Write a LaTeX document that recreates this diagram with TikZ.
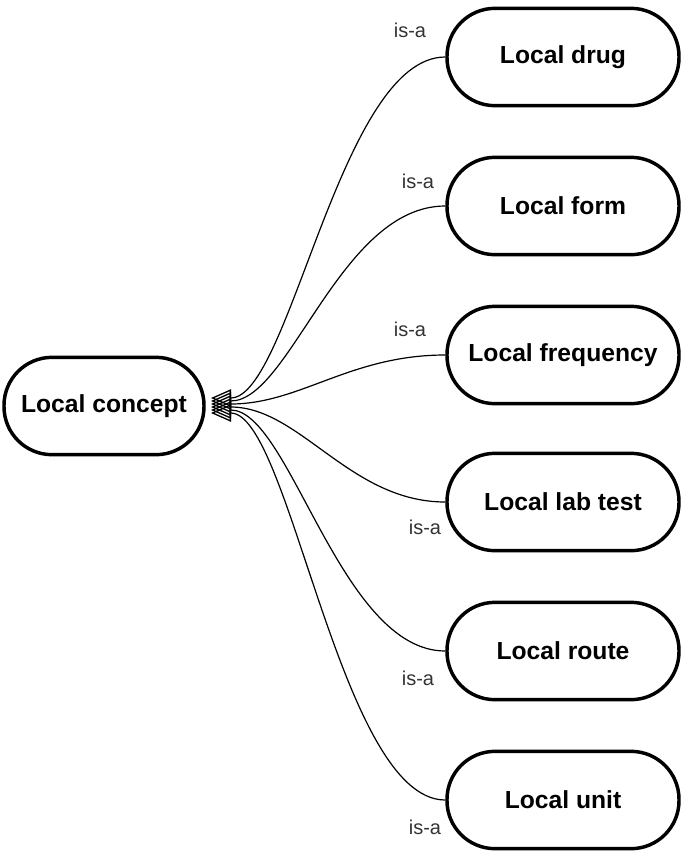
\documentclass[tikz,border=0pt]{standalone}
\usepackage{fontspec}
\setmainfont{Liberation Sans}
\usetikzlibrary{arrows.meta}
\begin{document}
\begin{tikzpicture}[x=0.75pt,y=-0.75pt,
  box/.style={draw,line width=2.6pt,rounded corners=36pt,minimum width=174pt,minimum height=73pt,font=\bfseries\fontsize{18.5}{22}\selectfont,inner sep=0pt},
  lbox/.style={box,minimum width=150pt},
  rel/.style={line width=0.9pt,{Triangle[open,length=15pt,width=13pt,line width=1pt]}-},
  lab/.style={font=\fontsize{15}{18}\selectfont,text=black!80}]
\useasboundingbox (0,0) rectangle (691,861);
\node[lbox] (c) at (104,406) {Local concept};
\node[box] (d) at (563,57) {Local drug};
\node[box] (f) at (563,206) {Local form};
\node[box] (q) at (563,355) {Local frequency};
\node[box] (l) at (563,502) {Local lab test};
\node[box] (r) at (563,651) {Local route};
\node[box] (u) at (563,800) {Local unit};
\coordinate (e1) at (211,398);
\coordinate (e2) at (211,401);
\coordinate (e3) at (211,404);
\coordinate (e4) at (211,407);
\coordinate (e5) at (211,410);
\coordinate (e6) at (211,413);
\draw[rel] (e1) .. controls (290,398) and (340,57) .. (d.west);
\draw[rel] (e2) .. controls (290,401) and (340,206) .. (f.west);
\draw[rel] (e3) .. controls (300,404) and (350,355) .. (q.west);
\draw[rel] (e4) .. controls (300,407) and (350,502) .. (l.west);
\draw[rel] (e5) .. controls (290,410) and (340,651) .. (r.west);
\draw[rel] (e6) .. controls (290,413) and (340,800) .. (u.west);
\node[lab] (t1) at (410,30) {is-a};
\node[lab] (t2) at (418,181) {is-a};
\node[lab] (t3) at (410,329) {is-a};
\node[lab] (t4) at (425,527) {is-a};
\node[lab] (t5) at (418,678) {is-a};
\node[lab] (t6) at (425,827) {is-a};
\end{tikzpicture}
\end{document}
